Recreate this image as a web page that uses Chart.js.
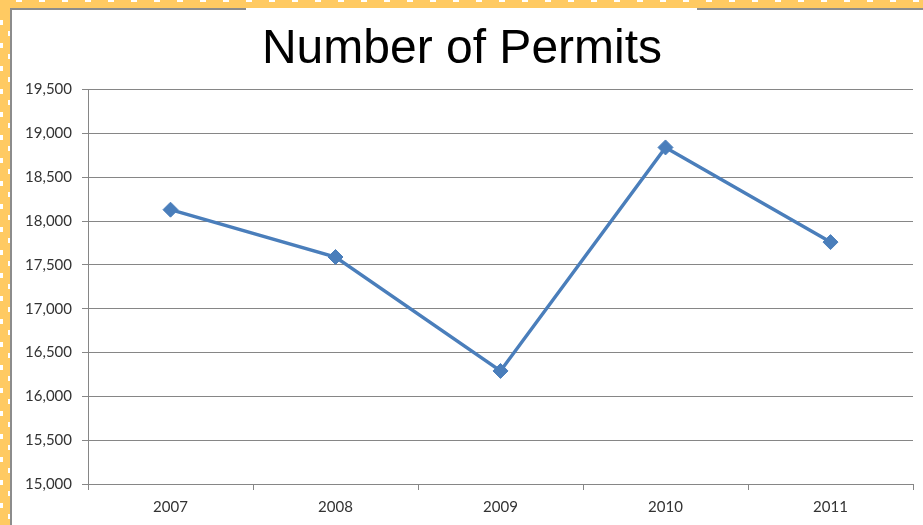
<!DOCTYPE html>
<html>
<head>
<meta charset="utf-8">
<script src="https://cdn.jsdelivr.net/npm/chart.js@4.4.1/dist/chart.umd.min.js"></script>
<style>
  html, body { margin: 0; padding: 0; background: #ffffff; }
  body { width: 923px; height: 525px; position: relative; overflow: hidden; }
  .strip-top {
    position: absolute; left: 0; top: 0; width: 923px; height: 8px;
    background-color: #FFCA62;
  }
  .strip-left {
    position: absolute; left: 0; top: 0; width: 10px; height: 525px;
    background-color: #FFCA62;
  }
  .dash-left-a {
    position: absolute; left: 0; top: 20px; width: 3px; height: 505px;
    background-image: repeating-linear-gradient(180deg, #ffffff 0 5px, transparent 5px 23px);
  }
  .dash-left-b {
    position: absolute; left: 8px; top: 31px; width: 2px; height: 494px;
    background-image: repeating-linear-gradient(180deg, #ffffff 0 5px, transparent 5px 23px);
  }
  .dash-top {
    position: absolute; left: 0; top: 0; width: 923px; height: 2px;
    background-image: repeating-linear-gradient(90deg, transparent 0 16px, #ffffff 16px 22px, transparent 22px 23px);
  }
  .gl { position: absolute; background: #8c8c8c; }
  #wrap { position: absolute; left: 11px; top: 10px; width: 912px; height: 515px; }
</style>
</head>
<body>
<div class="strip-top"></div>
<div class="strip-left"></div>
<div class="dash-left-a"></div>
<div class="dash-left-b"></div>
<div class="dash-top"></div>
<div class="gl" style="left:10px; top:8px; width:2px; height:517px;"></div>
<div class="gl" style="left:10px; top:8px; width:236px; height:2px;"></div>
<div class="gl" style="left:697px; top:8px; width:226px; height:2px;"></div>
<div id="wrap"><canvas id="c" width="912" height="515"></canvas></div>
<script>
const categories = ['2007', '2008', '2009', '2010', '2011'];
const permits = [18130, 17590, 16290, 18840, 17760];
const yMin = 15000;
const yMax = 19500;
const yStep = 500;

const grey = '#868686';
const labelFont = { family: 'Lato, "Liberation Sans", sans-serif', size: 15 };

new Chart(document.getElementById('c'), {
  type: 'line',
  data: {
    labels: categories,
    datasets: [{
      label: 'Number of Permits',
      data: permits,
      borderColor: '#4A7EBB',
      backgroundColor: '#4A7EBB',
      borderWidth: 3.5,
      pointStyle: 'rectRot',
      pointRadius: 7.5,
      pointBorderWidth: 1,
      pointBackgroundColor: '#4A7EBB',
      pointBorderColor: '#4A7EBB',
      tension: 0,
      fill: false
    }]
  },
  options: {
    responsive: false,
    animation: false,
    devicePixelRatio: 1,
    layout: { padding: { left: 0, right: 10, top: 0, bottom: 0 } },
    plugins: {
      legend: { display: false },
      tooltip: { enabled: false },
      title: {
        display: true,
        text: 'Number of Permits',
        color: '#000000',
        font: { family: '"Liberation Sans", Arial, sans-serif', size: 48, weight: 'normal' },
        padding: { top: 11, bottom: 11 }
      }
    },
    scales: {
      x: {
        type: 'category',
        offset: true,
        grid: {
          offset: true,
          drawOnChartArea: false,
          drawTicks: true,
          tickLength: 6,
          color: grey
        },
        border: { display: true, color: grey, width: 1 },
        ticks: { color: '#333333', font: labelFont, padding: 8, maxRotation: 0 },
        afterFit: (s) => { s.height = 41; }
      },
      y: {
        min: yMin,
        max: yMax,
        grid: { color: grey, lineWidth: 1, tickLength: 6, drawTicks: true },
        border: { display: true, color: grey, width: 1 },
        ticks: {
          stepSize: yStep,
          color: '#333333',
          font: labelFont,
          padding: 10,
          callback: (v) => v.toLocaleString('en-US')
        },
        afterFit: (s) => { s.width = 77; }
      }
    }
  }
});
</script>
</body>
</html>
